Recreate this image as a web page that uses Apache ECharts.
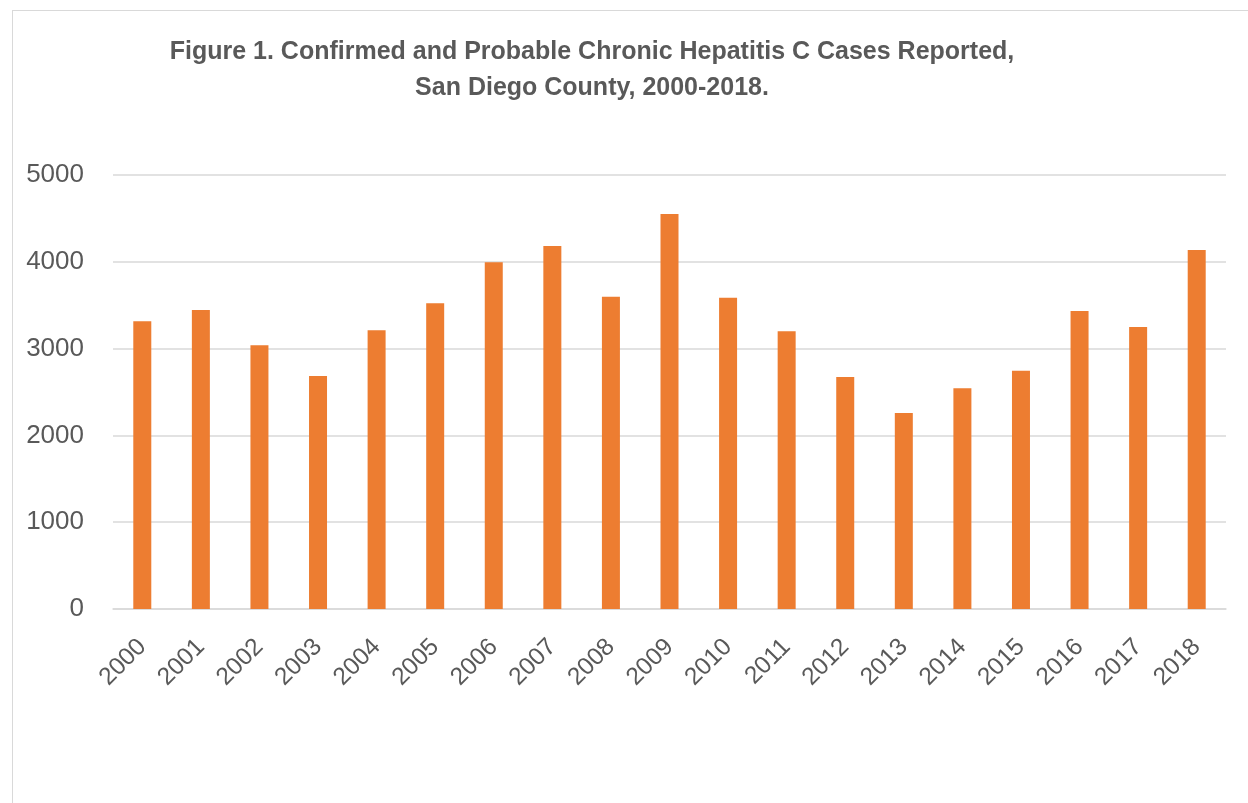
<!DOCTYPE html>
<html>
<head>
<meta charset="utf-8">
<script src="https://cdn.jsdelivr.net/npm/echarts@6/dist/echarts.min.js"></script>
<style>
html,body{margin:0;padding:0;background:#fff;}
#frame{position:absolute;left:12px;top:10px;width:1240px;height:800px;border:1px solid #d9d9d9;box-sizing:border-box;}
#c{position:absolute;left:0;top:0;width:1248px;height:803px;}
</style>
</head>
<body>
<div id="frame"></div>
<div id="c"></div>
<script>
var titleLines = ['Figure 1. Confirmed and Probable Chronic Hepatitis C Cases Reported,', 'San Diego County, 2000-2018.'];
var years = ['2000','2001','2002','2003','2004','2005','2006','2007','2008','2009','2010','2011','2012','2013','2014','2015','2016','2017','2018'];
var cases = [3314,3445,3038,2684,3211,3522,3994,4182,3598,4551,3587,3199,2673,2258,2542,2746,3433,3249,4136];
var yTicks = {min:0, max:5000, interval:1000};

var chart = echarts.init(document.getElementById('c'), null, {renderer:'canvas'});
var titleFont = 'bold 25px "Liberation Sans", sans-serif';
chart.setOption({
  animation:false,
  backgroundColor:'transparent',
  graphic:[
    {type:'text', x:592, y:52, style:{text:titleLines[0], fill:'#595959', font:titleFont, textAlign:'center', textVerticalAlign:'middle'}},
    {type:'text', x:592, y:88, style:{text:titleLines[1], fill:'#595959', font:titleFont, textAlign:'center', textVerticalAlign:'middle'}}
  ],
  grid:{left:113, right:22, top:175, bottom:194, containLabel:false},
  xAxis:{
    type:'category', data:years,
    axisLine:{show:true, lineStyle:{color:'#d9d9d9', width:1.5}},
    axisTick:{show:false},
    axisLabel:{rotate:45, color:'#595959', fontSize:24.5, fontFamily:'"Liberation Sans", sans-serif', margin:34, interval:0}
  },
  yAxis:{
    type:'value', min:yTicks.min, max:yTicks.max, interval:yTicks.interval,
    axisLine:{show:false}, axisTick:{show:false},
    splitLine:{lineStyle:{color:'#d9d9d9', width:1.5}},
    axisLabel:{color:'#595959', fontSize:26, fontFamily:'"Liberation Sans", sans-serif', margin:29, formatter:function(v){return String(v);}}
  },
  series:[{
    type:'bar', data:cases, barWidth:18,
    itemStyle:{color:'#ed7d31'}
  }]
});
</script>
</body>
</html>
